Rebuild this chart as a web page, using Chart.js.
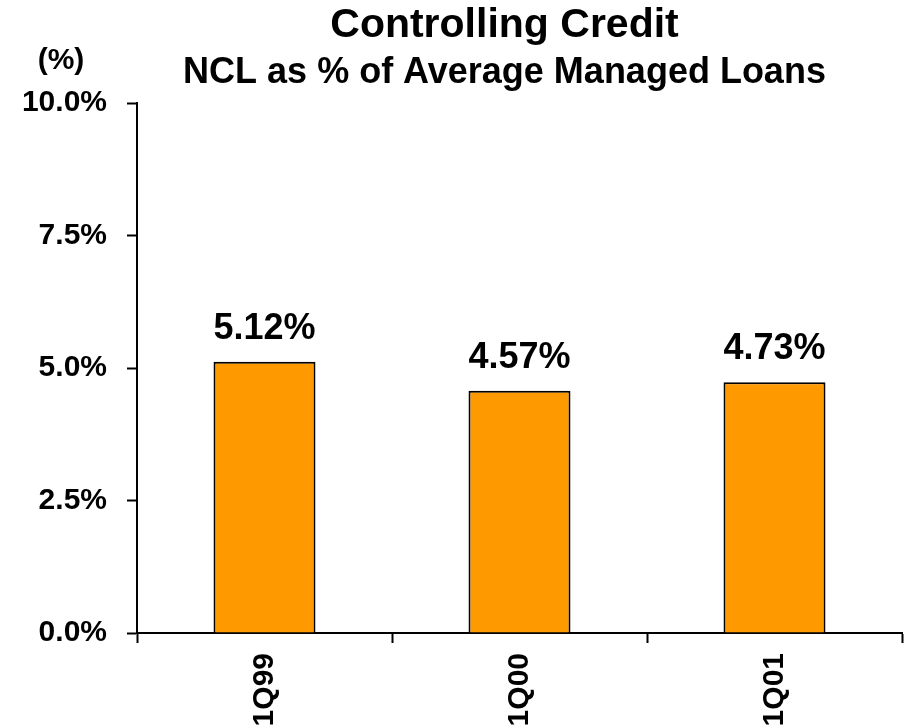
<!DOCTYPE html>
<html>
<head>
<meta charset="utf-8">
<script src="https://cdn.jsdelivr.net/npm/chart.js@4/dist/chart.umd.min.js"></script>
<style>
  html, body { margin: 0; padding: 0; background: #fff; }
  #wrap { width: 913px; height: 726px; position: relative; }
</style>
</head>
<body>
<div id="wrap"><canvas id="c"></canvas></div>
<script>
const categories = ['1Q99', '1Q00', '1Q01'];
const nclValues = [5.12, 4.57, 4.73];
const yTickValues = [0, 2.5, 5, 7.5, 10];
const titleText = 'Controlling Credit';
const subtitleText = 'NCL as % of Average Managed Loans';
const unitLabel = '(%)';

const FONT = '"Liberation Sans", Arial, Helvetica, sans-serif';

const textLayer = {
  id: 'textLayer',
  afterDatasetsDraw(chart) {
    const ctx = chart.ctx;
    ctx.save();
    ctx.font = 'bold 36px ' + FONT;
    ctx.fillStyle = '#000';
    ctx.textAlign = 'center';
    ctx.textBaseline = 'alphabetic';
    const meta = chart.getDatasetMeta(0);
    meta.data.forEach((bar, i) => {
      const v = chart.data.datasets[0].data[i];
      ctx.fillText(v.toFixed(2) + '%', bar.x, bar.y - 23);
    });
    ctx.restore();
  },
  afterDraw(chart) {
    const ctx = chart.ctx;
    const area = chart.chartArea;
    const cx = area.left + (area.right - area.left) / 2 - 15;
    ctx.save();
    ctx.fillStyle = '#000';
    ctx.textAlign = 'center';
    ctx.textBaseline = 'alphabetic';
    ctx.font = 'bold 41px ' + FONT;
    ctx.fillText(titleText, cx, area.top - 66);
    ctx.font = 'bold 36px ' + FONT;
    ctx.fillText(subtitleText, cx, area.top - 20);
    ctx.font = 'bold 30px ' + FONT;
    ctx.fillText(unitLabel, area.left - 76, area.top - 34);
    ctx.restore();
  }
};

new Chart(document.getElementById('c'), {
  type: 'bar',
  data: {
    labels: categories,
    datasets: [{
      data: nclValues,
      backgroundColor: '#FF9900',
      borderColor: '#000',
      borderWidth: 2,
      barPercentage: 0.4,
      categoryPercentage: 1.0
    }]
  },
  options: {
    responsive: true,
    maintainAspectRatio: false,
    animation: false,
    layout: { padding: { top: 103, right: 11, left: 0, bottom: 0 } },
    plugins: {
      legend: { display: false },
      tooltip: { enabled: false },
      title: { display: false },
      subtitle: { display: false }
    },
    scales: {
      x: {
        grid: {
          display: true,
          drawOnChartArea: false,
          drawTicks: true,
          tickLength: 10,
          tickWidth: 2,
          tickColor: '#000',
          offset: true
        },
        border: { display: true, color: '#000', width: 2 },
        ticks: {
          color: '#000',
          font: { family: FONT, size: 30, weight: 'bold' },
          minRotation: 90,
          maxRotation: 90,
          padding: 10,
          autoSkip: false
        },
        afterFit(scale) { scale.height = 93; }
      },
      y: {
        min: 0,
        max: 10,
        afterBuildTicks(scale) { scale.ticks = yTickValues.map(v => ({ value: v })); },
        grid: {
          display: true,
          drawOnChartArea: false,
          drawTicks: true,
          tickLength: 10,
          tickWidth: 2,
          tickColor: '#000'
        },
        border: { display: true, color: '#000', width: 2 },
        ticks: {
          color: '#000',
          font: { family: FONT, size: 30, weight: 'bold' },
          padding: 20,
          callback: v => Number(v).toFixed(1) + '%'
        },
        afterFit(scale) { scale.width = 137; }
      }
    }
  },
  plugins: [textLayer]
});
</script>
</body>
</html>
